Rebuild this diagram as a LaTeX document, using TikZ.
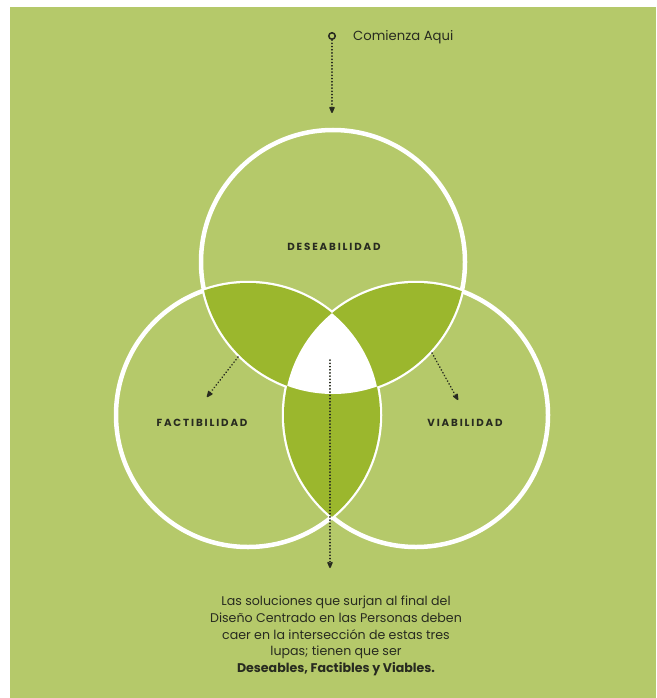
\documentclass[tikz,border=0pt]{standalone}
\usepackage{fontspec}
\setmainfont{Poppins}
\newfontfamily\labelfont[LetterSpace=18]{Poppins}
\usetikzlibrary{arrows.meta}
\definecolor{bg}{RGB}{181,201,106}
\definecolor{lens}{RGB}{155,183,45}
\definecolor{ink}{RGB}{40,43,32}
\begin{document}
\begin{tikzpicture}[x=1pt,y=-1pt,
  ring/.style={draw=white, line width=4.5pt},
  dotarrow/.style={draw=ink, line width=1.6pt, dash pattern=on 0.3pt off 2.9pt, line cap=round,
    -{Stealth[length=9pt,width=7.5pt,round=false]}},
  tag/.style={font=\labelfont\bfseries\fontsize{10.3}{12}\selectfont, text=ink, inner sep=0pt},
  body/.style={font=\fontsize{12.6}{16.8}\selectfont, text=ink, align=center, inner sep=0pt}]
\useasboundingbox (0,0) rectangle (656,698);
\fill[white] (0,0) rectangle (656,698);
\fill[bg] (10,7) rectangle (656,698);
\coordinate (cT) at (333,262);
\coordinate (cL) at (248,415);
\coordinate (cR) at (416,415);
\draw[ring] (cT) circle[radius=132pt];
\draw[ring] (cL) circle[radius=132pt];
\draw[ring] (cR) circle[radius=132pt];
\begin{scope}\clip (cT) circle[radius=132pt]; \fill[lens] (cL) circle[radius=132pt];\end{scope}
\begin{scope}\clip (cT) circle[radius=132pt]; \fill[lens] (cR) circle[radius=132pt];\end{scope}
\begin{scope}\clip (cL) circle[radius=132pt]; \fill[lens] (cR) circle[radius=132pt];\end{scope}
\begin{scope}\clip (cT) circle[radius=132pt]; \clip (cL) circle[radius=132pt]; \fill[white] (cR) circle[radius=132pt];\end{scope}
% start marker and text
\node[draw=ink, circle, line width=1.5pt, inner sep=0pt, minimum size=6.5pt] (start) at (332,36) {};
\node[anchor=west, font=\fontsize{13.2}{15}\selectfont, text=ink, inner sep=0pt] (cta) at (353,37) {Comienza Aqui};
\coordinate (topEnd) at (332,113);
\draw[dotarrow] (start) -- (topEnd);
% diagonal arrows
\coordinate (lA) at (238,357); \coordinate (lB) at (207,397);
\draw[dotarrow] (lA) -- (lB);
\coordinate (rA) at (432,353); \coordinate (rB) at (458,400);
\draw[dotarrow] (rA) -- (rB);
\coordinate (mA) at (330,360); \coordinate (mB) at (330,568);
\draw[dotarrow] (mA) -- (mB);
% labels
\node[tag] (des) at (334,247) {DESEABILIDAD};
\node[tag] (fac) at (202,423) {FACTIBILIDAD};
\node[tag] (via) at (465,423) {VIABILIDAD};
\node[body] (note) at (336,636) {Las soluciones que surjan al final del\\Diseño Centrado en las Personas deben\\caer en la intersección de estas tres\\lupas; tienen que ser\\\textbf{Deseables, Factibles y Viables.}};
\end{tikzpicture}
\end{document}
